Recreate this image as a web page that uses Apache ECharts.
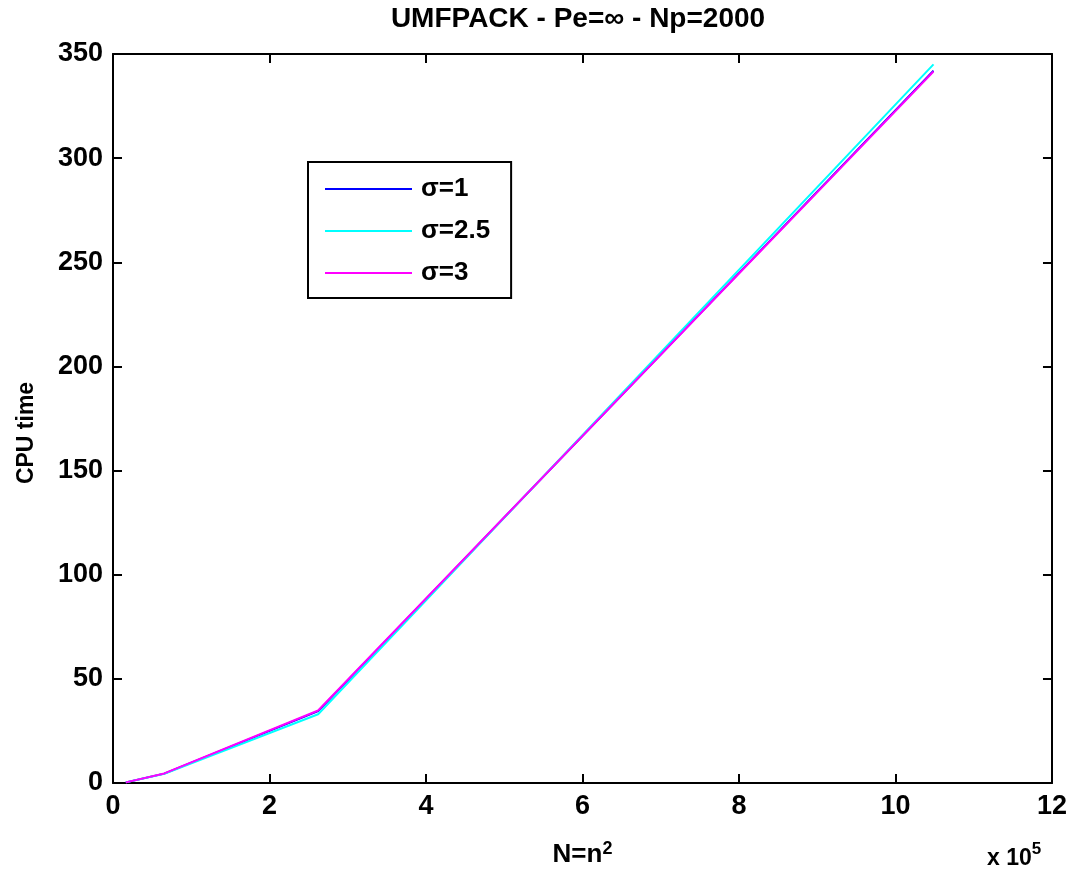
<!DOCTYPE html>
<html><head><meta charset="utf-8">
<script src="https://cdn.jsdelivr.net/npm/echarts@6/dist/echarts.min.js"></script>
<style>html,body{margin:0;padding:0;background:#fff}#c{width:1070px;height:873px}</style>
</head><body><div id="c"></div>
<script>
// x values in units of 1e5 (N = n^2 for n = 128, 256, 512, 1024)
const xVals = [0.16384, 0.65536, 2.62144, 10.48576];
const sigma1 = [0.3, 4.5, 34.5, 342];
const sigma25 = [0.3, 4.4, 33.0, 345];
const sigma3 = [0.3, 4.6, 34.8, 341.6];
const seriesNames = ['σ=1', 'σ=2.5', 'σ=3'];
const seriesColors = ['#0000ff', '#00ffff', '#ff00ff'];
const seriesData = [sigma1, sigma25, sigma3];

const font = 'Liberation Sans, Arial, sans-serif';
const chart = echarts.init(document.getElementById('c'));
const axisCommon = {
  axisLine: {show: true, onZero: false, lineStyle: {color: '#000', width: 2}},
  axisTick: {show: true, inside: true, length: 9, lineStyle: {color: '#000', width: 2}},
  splitLine: {show: false}
};
chart.setOption({
  animation: false,
  backgroundColor: '#fff',
  title: {text: 'UMFPACK - Pe=∞ - Np=2000', left: 573, top: 0, textAlign: 'center',
    textStyle: {fontFamily: font, fontSize: 28, fontWeight: 'bold', color: '#000'}},
  grid: {left: 113, right: 18, top: 54, bottom: 88},
  legend: {
    orient: 'vertical', left: 308, top: 162,
    padding: [14, 21, 12, 17], itemGap: 16,
    borderColor: '#000', borderWidth: 2, backgroundColor: '#fff',
    itemWidth: 87, itemHeight: 2, icon: 'rect',
    textStyle: {fontFamily: font, fontSize: 26, fontWeight: 'bold', color: '#000', padding: [0, 0, 0, 4]},
    data: seriesNames
  },
  xAxis: [
    Object.assign({type: 'value', min: 0, max: 12, interval: 2, position: 'bottom',
      name: '{a|N=n}{s|2}', nameLocation: 'middle', nameGap: 57,
      nameTextStyle: {rich: {
        a: {fontFamily: font, fontSize: 26, fontWeight: 'bold', color: '#000'},
        s: {fontFamily: font, fontSize: 18, fontWeight: 'bold', color: '#000', verticalAlign: 'top', padding: [0, 0, 12, 0]}
      }},
      axisLabel: {fontFamily: font, fontSize: 27, fontWeight: 'bold', color: '#000', margin: 10}}, axisCommon),
    Object.assign({type: 'value', min: 0, max: 12, interval: 2, position: 'top',
      axisLabel: {show: false}}, axisCommon)
  ],
  yAxis: [
    Object.assign({type: 'value', min: 0, max: 350, interval: 50, position: 'left',
      axisLabel: {fontFamily: font, fontSize: 27, fontWeight: 'bold', color: '#000', margin: 10}}, axisCommon),
    Object.assign({type: 'value', min: 0, max: 350, interval: 50, position: 'right',
      axisLabel: {show: false}}, axisCommon)
  ],
  graphic: [{
    type: 'text', x: 27, y: 433, rotation: Math.PI / 2,
    style: {text: 'CPU time', fontFamily: font, fontSize: 23, fontWeight: 'bold', fill: '#000',
      align: 'center', verticalAlign: 'middle'}
  }, {
    type: 'text', left: 987, top: 841,
    style: {text: '{a|x 10}{s|5}', rich: {
      a: {fontFamily: font, fontSize: 23, fontWeight: 'bold', fill: '#000', verticalAlign: 'bottom'},
      s: {fontFamily: font, fontSize: 17, fontWeight: 'bold', fill: '#000', verticalAlign: 'top', padding: [0, 0, 12, 0]}
    }}
  }],
  series: seriesNames.map((n, i) => ({
    name: n, type: 'line', showSymbol: false, symbol: 'none',
    lineStyle: {color: seriesColors[i], width: 2}, itemStyle: {color: seriesColors[i]},
    data: xVals.map((x, j) => [x, seriesData[i][j]])
  }))
});
</script></body></html>
